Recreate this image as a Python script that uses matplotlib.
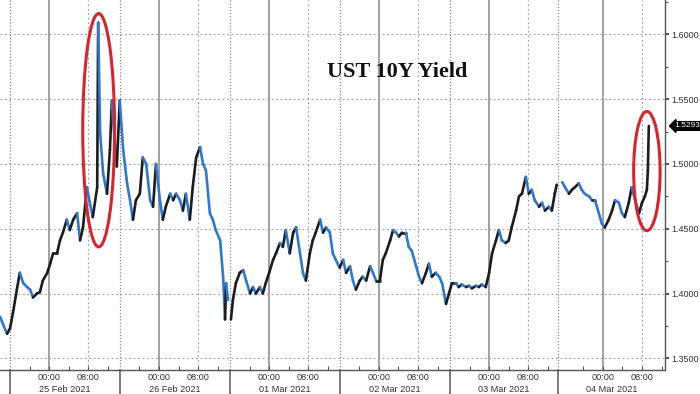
import numpy as np
import matplotlib.pyplot as plt
from matplotlib.collections import LineCollection
from matplotlib.patches import Ellipse
import matplotlib.transforms as mtransforms

# time axis: trading hours, 0 = start of the 25 Feb session (gaps between sessions removed)
hours = [
    -2.0, -1.4, -0.6, 0.0, 0.6, 1.4, 2.0, 2.7, 3.5, 4.1, 4.7, 5.5, 6.1, 6.7, 7.6, 8.2,
    8.8, 9.6, 10.2, 10.8, 11.6, 12.2, 12.9, 13.7, 14.3, 14.9, 15.7, 16.3, 16.9, 17.8,
    18.0, 18.4, 19.0, 19.8, 20.4, 20.8, 21.0, 21.8, 22.4, 23.1, 23.9, 24.5, 25.1, 25.7,
    26.5, 27.1, 27.8, 28.6, 29.2, 29.8, 30.6, 31.2, 31.8, 32.7, 33.3, 33.9, 34.7, 35.3,
    35.9, 36.7, 37.3, 38.0, 38.8, 39.4, 40.0, 40.8, 41.4, 42.0, 42.9, 43.5, 43.9, 44.1,
    44.5, 45.1, 45.5, 46.1, 46.9, 47.6, 48.2, 49.0, 49.6, 50.2, 51.0, 51.6, 52.2, 52.9,
    53.7, 54.3, 55.1, 55.7, 56.3, 57.1, 57.8, 58.4, 59.2, 59.8, 60.4, 61.2, 61.8, 62.4,
    63.3, 63.9, 64.5, 65.3, 65.9, 66.5, 67.3, 68.0, 68.6, 69.4, 70.0, 70.6, 71.4, 72.0,
    72.7, 73.5, 74.1, 74.7, 75.5, 76.1, 76.7, 77.6, 78.2, 78.8, 79.4, 80.0, 80.8, 81.4,
    82.0, 82.9, 83.5, 84.1, 84.9, 85.5, 86.1, 86.9, 87.6, 88.2, 89.0, 89.6, 90.2, 91.0,
    91.6, 92.2, 93.1, 93.7, 94.3, 95.1, 95.7, 96.3, 97.1, 97.8, 98.4, 99.2, 99.8, 100.4,
    101.2, 101.8, 102.4, 103.3, 103.9, 104.5, 105.3, 105.9, 106.5, 107.1, 108.0, 108.6,
    109.2, 110.0, 110.6, 111.2, 111.6, 112.7, 113.3, 114.1, 114.7, 115.3, 116.1, 116.7,
    117.3, 118.2, 118.8, 119.4, 120.2, 120.8, 121.4, 122.2, 122.9, 123.5, 124.3, 124.9,
    125.5, 126.3, 126.9, 127.6, 128.4, 129.0, 129.6, 130.0, 130.2, 130.4,
]
yields = [
    1.382, 1.376, 1.369, 1.373, 1.385, 1.403, 1.416, 1.408, 1.405, 1.403, 1.397, 1.400, 1.401, 1.410, 1.416, 1.423,
    1.431, 1.431, 1.441, 1.447, 1.457, 1.449, 1.457, 1.462, 1.441, 1.451, 1.482, 1.470, 1.459, 1.482,
    1.609, 1.524, 1.493, 1.477, 1.511, 1.549, 1.536, 1.498, 1.549, 1.511, 1.485, 1.472, 1.457, 1.472,
    1.477, 1.505, 1.500, 1.472, 1.467, 1.500, 1.472, 1.457, 1.467, 1.477, 1.472, 1.477, 1.472, 1.464,
    1.477, 1.457, 1.482, 1.505, 1.513, 1.500, 1.495, 1.462, 1.457, 1.449, 1.441, 1.413, 1.380, 1.408,
    1.395, 1.380, 1.395, 1.408, 1.416, 1.418, 1.410, 1.400, 1.405, 1.400, 1.405, 1.400, 1.408, 1.416,
    1.426, 1.431, 1.439, 1.436, 1.449, 1.431, 1.447, 1.451, 1.431, 1.416, 1.410, 1.431, 1.441, 1.447,
    1.457, 1.447, 1.451, 1.447, 1.431, 1.426, 1.420, 1.426, 1.416, 1.421, 1.410, 1.403, 1.410, 1.413,
    1.410, 1.421, 1.416, 1.410, 1.410, 1.426, 1.431, 1.441, 1.449, 1.447, 1.444, 1.447, 1.447, 1.436,
    1.433, 1.421, 1.413, 1.408, 1.416, 1.423, 1.413, 1.416, 1.413, 1.408, 1.392, 1.400, 1.408, 1.408,
    1.405, 1.407, 1.405, 1.406, 1.404, 1.406, 1.405, 1.407, 1.405, 1.416, 1.431, 1.441, 1.449, 1.441,
    1.439, 1.441, 1.451, 1.464, 1.475, 1.477, 1.490, 1.477, 1.480, 1.472, 1.467, 1.470,
    1.464, 1.467, 1.464, 1.477, 1.484, 1.486, 1.482, 1.477, 1.480, 1.482, 1.485, 1.480,
    1.477, 1.475, 1.472, 1.472, 1.462, 1.454, 1.451, 1.457, 1.464, 1.472, 1.470, 1.462,
    1.459, 1.470, 1.482, 1.472, 1.462, 1.470, 1.475, 1.480, 1.495, 1.5293,
]

day_labels = ['25 Feb 2021', '26 Feb 2021', '01 Mar 2021', '02 Mar 2021', '03 Mar 2021', '04 Mar 2021']
session_starts = [0.0, 22.45, 44.9, 67.3, 89.8, 111.8]
session_end = 133.7
data_gaps = [44.9, 111.8]
midnights = [8.0, 30.4, 52.9, 75.3, 97.8, 121.0]
eights = [16.0, 38.4, 60.9, 83.3, 105.8, 129.0]
last_value = 1.5293

y_ticks = [1.35, 1.40, 1.45, 1.50, 1.55, 1.60]

plt.rcParams['font.family'] = ['Liberation Sans', 'DejaVu Sans']

fig = plt.figure(figsize=(7, 3.94), dpi=100)
ax = fig.add_axes([0, 24 / 394, 665 / 700, 370 / 394])
ax.set_xlim(-2.04, session_end)
ax.set_ylim(1.341, 1.6265)

# grid
for y in y_ticks:
    ax.axhline(y, color='#9a9a9a', lw=0.8, ls=(0, (1.5, 2.5)), zorder=1)
for x in eights:
    ax.axvline(x, color='#9a9a9a', lw=0.8, ls=(0, (1.5, 2.5)), zorder=1)
for x in session_starts:
    ax.axvline(x, color='#8a8a8a', lw=0.9, ls=(0, (1, 1.5)), zorder=1)
    ax.axvline(x, ymin=-0.07, ymax=0, color='#666666', lw=1.2, clip_on=False)
for x in midnights:
    ax.axvline(x, color='#9a9a9a', lw=1.3, zorder=1)

# price line, coloured by direction, broken where the feed has gaps
segs, cols = [], []
for i in range(len(hours) - 1):
    x0, x1 = hours[i], hours[i + 1]
    if any(x0 < g < x1 for g in data_gaps):
        continue
    segs.append([(x0, yields[i]), (x1, yields[i + 1])])
    cols.append('#1c1c1c' if yields[i + 1] >= yields[i] else '#2f78cf')
ax.add_collection(LineCollection(segs, colors=cols, linewidths=1.9, zorder=3,
                                 capstyle='round', joinstyle='round'))

# red highlight ellipses
ax.add_patch(Ellipse((18.1, 1.526), 6.5, 0.18, fill=False, ec='#d8242f', lw=2.2, zorder=4))
ax.add_patch(Ellipse((130.0, 1.4945), 5.4, 0.092, fill=False, ec='#d8242f', lw=2.2, zorder=4))

ax.text(0.598, 0.805, 'UST 10Y Yield', transform=ax.transAxes, ha='center', va='center',
        fontsize=16, fontweight='bold', family='Liberation Serif', color='#111111')

# axes styling
for side in ['left', 'top']:
    ax.spines[side].set_visible(False)
for side in ['right', 'bottom']:
    ax.spines[side].set_color('#555555')
    ax.spines[side].set_linewidth(1.0)

ax.yaxis.tick_right()
ax.set_yticks(y_ticks)
ax.set_yticklabels(['%.4f' % v for v in y_ticks])
ax.set_yticks([v + 0.025 for v in y_ticks[:-1]] + [1.625], minor=True)
ax.tick_params(axis='y', which='major', direction='out', length=3, width=1.2, colors='#333333',
               labelsize=6.5, pad=1.5)
ax.tick_params(axis='y', which='minor', direction='out', length=2, width=0.8, colors='#555555')

xt = []
xl = []
for m, e in zip(midnights, eights):
    xt += [m, e]
    xl += ['00:00', '08:00']
ax.set_xticks(xt)
ax.set_xticklabels(xl)
minor_x = []
for m in midnights:
    minor_x += [m - 4, m + 4, m + 12]
ax.set_xticks(minor_x, minor=True)
ax.tick_params(axis='x', which='both', direction='in', length=3, width=0.8, colors='#555555',
               labelsize=6.6, pad=2, labelcolor='#333333')

trans = mtransforms.blended_transform_factory(ax.transData, ax.transAxes)
bounds = session_starts + [session_end]
for i, lab in enumerate(day_labels):
    ax.text((bounds[i] + bounds[i + 1]) / 2, -0.052, lab, transform=trans, ha='center', va='center',
            fontsize=6.6, color='#333333')

# last price tag
ax.annotate('%.4f' % last_value, xy=(1.0, last_value), xycoords=('axes fraction', 'data'),
            xytext=(6.5, 0), textcoords='offset points', ha='left', va='center', color='white',
            fontsize=6.0, bbox=dict(boxstyle='larrow,pad=0.1', fc='black', ec='black'),
            annotation_clip=False)

fig.savefig('out.png', dpi=100)
